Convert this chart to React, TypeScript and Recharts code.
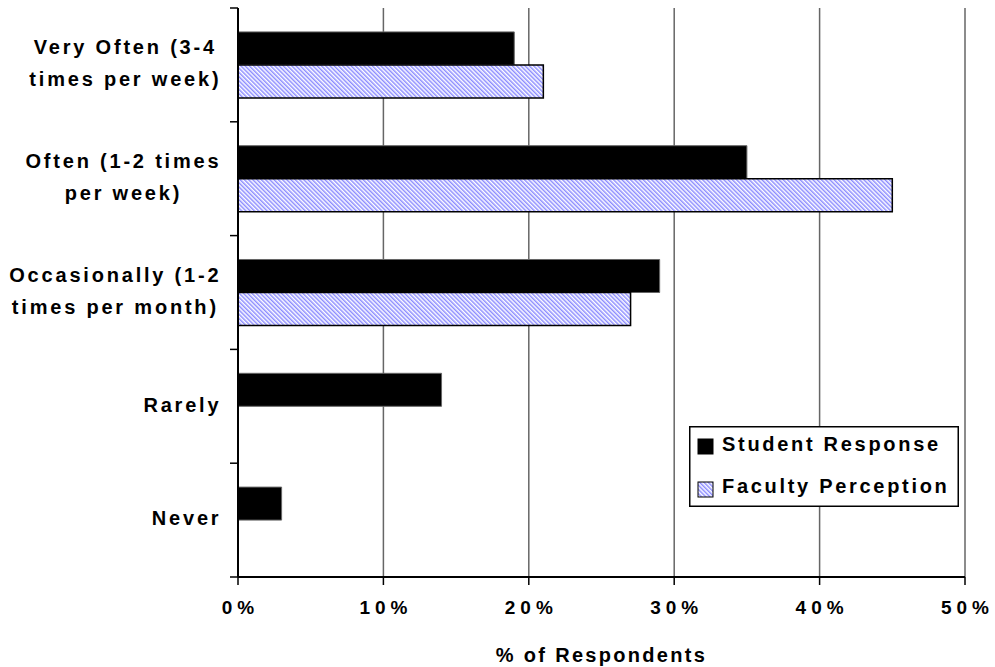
import { BarChart, Bar, XAxis, YAxis, CartesianGrid, Legend } from "recharts";

const categories = [
  "Very Often (3-4\ntimes per week)",
  "Often (1-2 times\nper week)",
  "Occasionally (1-2\ntimes per month)",
  "Rarely",
  "Never",
];
const studentResponse = [19, 35, 29, 14, 3];
const facultyPerception: (number | null)[] = [21, 45, 27, null, null];
const seriesNames = ["Student Response", "Faculty Perception"];
const xTicks = [0, 10, 20, 30, 40, 50];

const data = categories.map((category, i) => ({
  category,
  student: studentResponse[i],
  faculty: facultyPerception[i],
}));

const FONT = "'Liberation Sans', Arial, sans-serif";
const LABEL_SPACING = 2.8;

const ctx =
  typeof document !== "undefined"
    ? document.createElement("canvas").getContext("2d")
    : null;

const measure = (s: string) => {
  if (!ctx) return s.length * 13;
  ctx.font = `bold 20px ${FONT}`;
  (ctx as any).letterSpacing = `${LABEL_SPACING}px`;
  return ctx.measureText(s).width;
};

// category label + tick marks at the band boundaries (Excel style)
const CategoryTick = (props: any) => {
  const { x, y, payload, index, visibleTicksCount } = props;
  const axisX = x + 8;
  const half = payload.offset || 0;
  const lines = String(payload.value).split("\n");
  const right = x - 10;
  const block = Math.max(...lines.map(measure));
  const cx = right - block / 2;
  const lineH = 32;
  const start = y - ((lines.length - 1) * lineH) / 2 - 2;
  const isLast = index === (visibleTicksCount ?? categories.length) - 1;
  return (
    <g>
      <line x1={axisX - 8} x2={axisX} y1={y - half} y2={y - half} stroke="#000" strokeWidth={1.5} />
      {isLast && (
        <line x1={axisX - 8} x2={axisX} y1={y + half} y2={y + half} stroke="#000" strokeWidth={1.5} />
      )}
      <text
        fontFamily={FONT}
        fontWeight="bold"
        fontSize={20}
        letterSpacing={LABEL_SPACING}
        fill="#000"
        textAnchor="middle"
      >
        {lines.map((l, i) => (
          <tspan key={i} x={cx + LABEL_SPACING / 2} y={start + i * lineH} dy="0.36em">
            {l}
          </tspan>
        ))}
      </text>
    </g>
  );
};

const XTick = (props: any) => {
  const { x, y, payload } = props;
  return (
    <text
      x={x + 2.5}
      y={y + 27}
      fontFamily={FONT}
      fontWeight="bold"
      fontSize={19}
      letterSpacing={5}
      fill="#000"
      textAnchor="middle"
    >
      {`${payload.value}%`}
    </text>
  );
};

const renderLegend = (props: any) => {
  const items = [...(props.payload || [])].sort(
    (a: any, b: any) => seriesNames.indexOf(a.value) - seriesNames.indexOf(b.value)
  );
  return (
    <svg width={270} height={81} style={{ display: "block" }}>
      <defs>
        <pattern
          id="legendHatch"
          width="3"
          height="3"
          patternUnits="userSpaceOnUse"
          patternTransform="rotate(-45)"
        >
          <rect width="3" height="3" fill="#fff" />
          <rect width="1.5" height="3" fill="#8c8cff" />
        </pattern>
      </defs>
      <rect x={0.75} y={0.75} width={268.5} height={79.5} fill="#fff" stroke="#000" strokeWidth={1.5} />
      {items.map((entry: any, i: number) => (
        <g key={entry.value}>
          <rect
            x={9}
            y={13 + i * 43}
            width={15}
            height={15}
            fill={entry.dataKey === "faculty" ? "url(#legendHatch)" : "#000"}
            stroke="#000"
            strokeWidth={1}
          />
          <text
            x={33}
            y={25 + i * 41.5}
            fontFamily={FONT}
            fontWeight="bold"
            fontSize={20}
            letterSpacing={2.7}
            fill="#000"
          >
            {entry.value}
          </text>
        </g>
      ))}
    </svg>
  );
};

export default function App() {
  return (
    <div style={{ position: "absolute", left: 0, top: 0, background: "#fff" }}>
      <BarChart
        width={995}
        height={667}
        data={data}
        layout="vertical"
        margin={{ top: 8, right: 30, left: 0, bottom: 0 }}
        barCategoryGap="21%"
        barGap={0}
      >
        <defs>
          <pattern
            id="facultyHatch"
            width="3"
            height="3"
            patternUnits="userSpaceOnUse"
            patternTransform="rotate(-45)"
          >
            <rect width="3" height="3" fill="#fff" />
            <rect width="1.5" height="3" fill="#8c8cff" />
          </pattern>
        </defs>
        <CartesianGrid horizontal={false} stroke="#666" strokeWidth={1.5} />
        <XAxis
          type="number"
          domain={[0, 50]}
          ticks={xTicks}
          axisLine={{ stroke: "#000", strokeWidth: 2 }}
          tickLine={{ stroke: "#000", strokeWidth: 1.5 }}
          tickSize={8}
          tick={<XTick />}
          height={90}
          label={{
            value: "% of Respondents",
            position: "insideBottom",
            offset: 5,
            style: {
              fontFamily: FONT,
              fontWeight: "bold",
              fontSize: 20,
              letterSpacing: 2.3,
              fill: "#000",
            },
          }}
        />
        <YAxis
          type="category"
          dataKey="category"
          width={238}
          interval={0}
          axisLine={{ stroke: "#000", strokeWidth: 2 }}
          tickLine={false}
          tick={<CategoryTick />}
        />
        <Legend
          content={renderLegend}
          layout="horizontal"
          verticalAlign="middle"
          align="center"
          wrapperStyle={{ left: 689, top: 426, width: 270, height: 81 }}
        />
        <Bar
          dataKey="student"
          name="Student Response"
          fill="#000"
          stroke="#666"
          strokeWidth={1}
          isAnimationActive={false}
        />
        <Bar
          dataKey="faculty"
          name="Faculty Perception"
          fill="url(#facultyHatch)"
          stroke="#000"
          strokeWidth={1.5}
          isAnimationActive={false}
        />
      </BarChart>
    </div>
  );
}
